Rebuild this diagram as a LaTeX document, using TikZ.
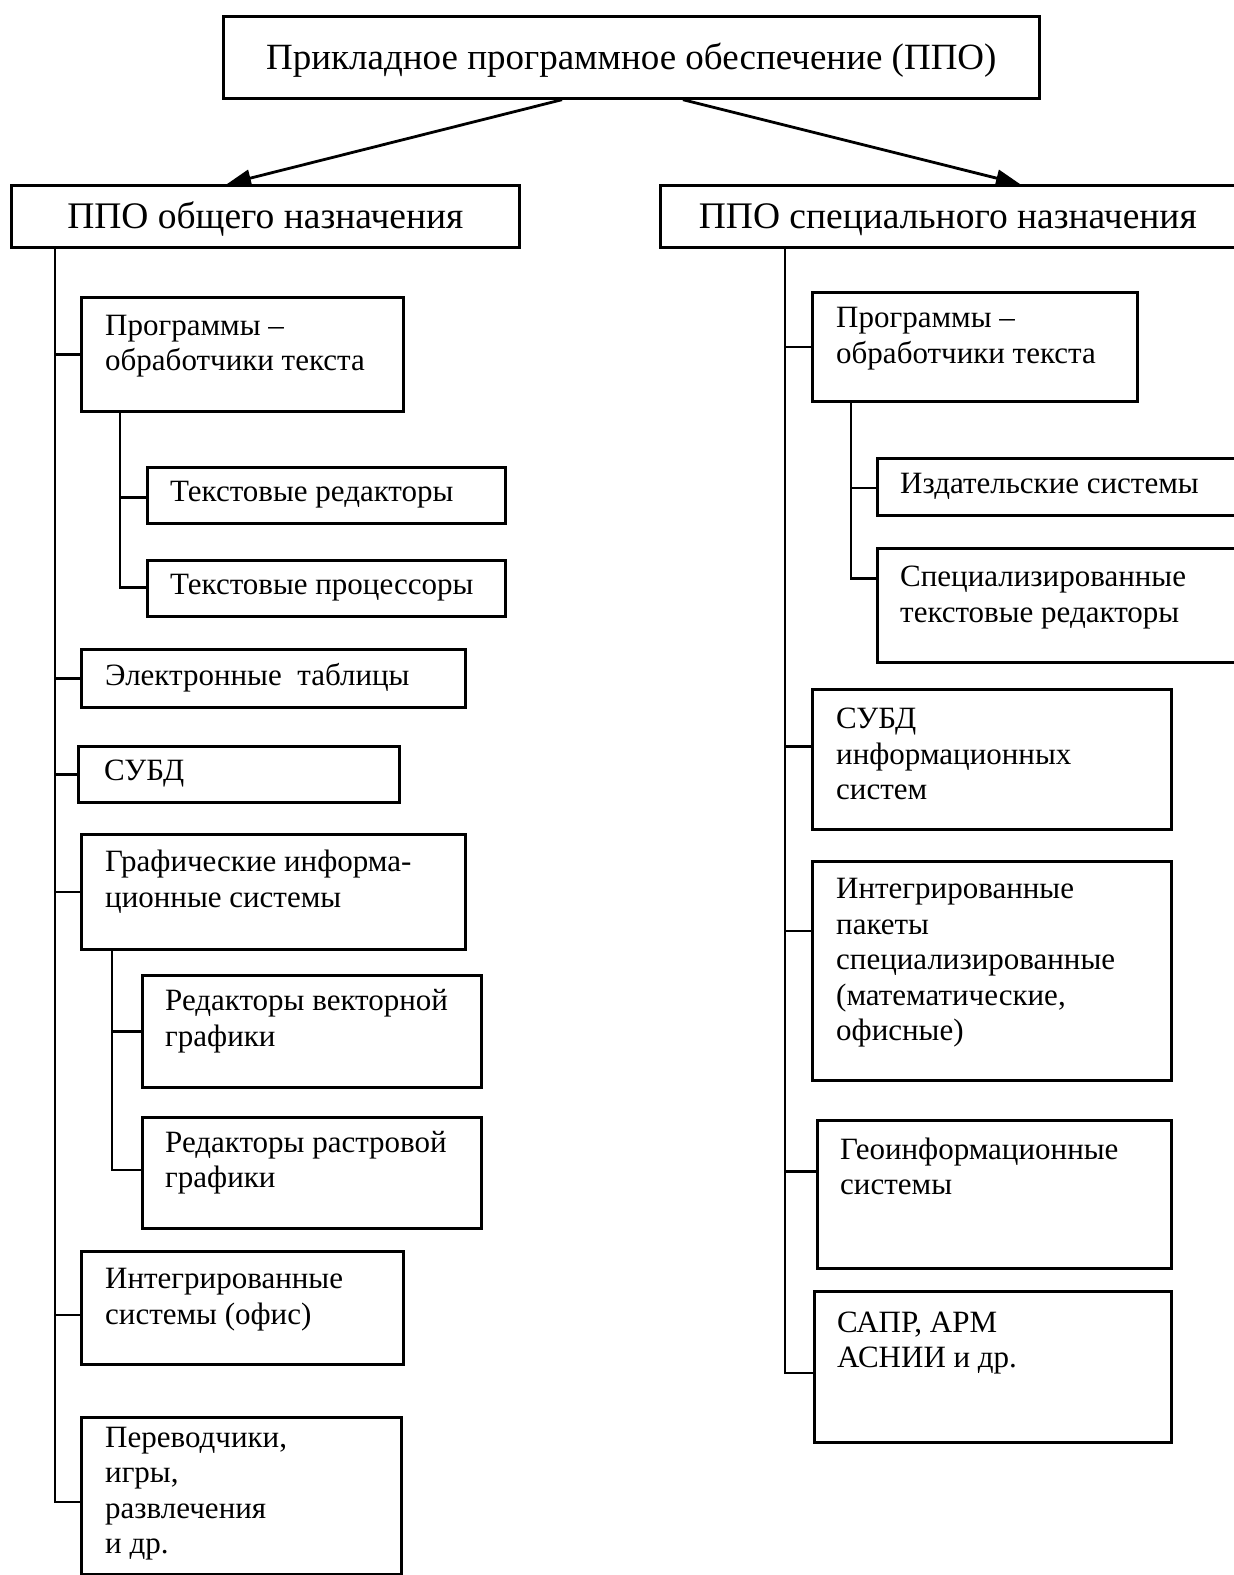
\documentclass[tikz,border=0pt]{standalone}
\usepackage{fontspec}
\setmainfont{Liberation Serif}
\usetikzlibrary{arrows.meta,calc}
\tikzset{
  box/.style={draw=black, line width=2.7pt, rectangle, inner sep=0pt, anchor=north west, fill=none},
  lbl/.style={inner sep=0pt, anchor=west, align=left, font=\fontsize{31}{35.5}\selectfont},
  ttl/.style={inner sep=0pt, font=\fontsize{37}{40}\selectfont},
  hdr/.style={inner sep=0pt, font=\fontsize{37.5}{40}\selectfont},
  conn/.style={line width=2.7pt},
  arr/.style={line width=2.8pt, -{Triangle[length=24pt,width=17pt]}}
}
% \bx{name}{x1}{y1}{x2}{y2}
\newcommand\bx[5]{\node[box, minimum width={#4-#2}, minimum height={#5-#3}] (#1) at (#2,#3) {};}
\begin{document}
\begin{tikzpicture}[x=1pt,y=-1pt]
\useasboundingbox (0,0) rectangle (1234,1575);
\fill[white] (0,0) rectangle (1234,1575);

% top and headers
\bx{top}{222}{15}{1038}{97}
\node[ttl] at ([yshift=-3pt]top.center) {Прикладное программное обеспечение (ППО)};
\bx{lh}{10}{184}{518}{246}
\node[hdr] at ([yshift=-3pt]lh.center) {ППО общего назначения};
\bx{rh}{659}{184}{1250}{246}
\node[hdr] at ([xshift=-8pt,yshift=-3pt]rh.center) {ППО специального назначения};

\coordinate (topL) at ([xshift=340pt]top.south west);
\coordinate (topR) at ([xshift=461pt]top.south west);
\draw[arr] (topL) -- ([xshift=217pt]lh.north west);
\draw[arr] (topR) -- ([xshift=361pt]rh.north west);

% left column
\bx{a1}{80}{296}{402}{410}
\node[lbl] at ([xshift=25pt,yshift=8pt]a1.west) {Программы –\\обработчики текста};
\bx{a1a}{146}{466}{504}{522}
\node[lbl] at ([xshift=24pt,yshift=1pt]a1a.west) {Текстовые редакторы};
\bx{a1b}{146}{559}{504}{615}
\node[lbl] at ([xshift=24pt,yshift=1pt]a1b.west) {Текстовые процессоры};
\bx{a2}{80}{648}{464}{706}
\node[lbl] at ([xshift=25pt,yshift=1pt]a2.west) {Электронные\ \ таблицы};
\bx{a3}{77}{745}{398}{801}
\node[lbl] at ([xshift=27pt,yshift=1pt]a3.west) {СУБД};
\bx{a4}{80}{833}{464}{948}
\node[lbl] at ([xshift=25pt,yshift=10pt]a4.west) {Графические информа-\\ционные системы};
\bx{a4a}{141}{974}{480}{1086}
\node[lbl] at ([xshift=24pt,yshift=10pt]a4a.west) {Редакторы векторной\\графики};
\bx{a4b}{141}{1116}{480}{1227}
\node[lbl] at ([xshift=24pt,yshift=10pt]a4b.west) {Редакторы растровой\\графики};
\bx{a5}{80}{1250}{402}{1363}
\node[lbl] at ([xshift=25pt,yshift=8pt]a5.west) {Интегрированные\\системы (офис)};
\bx{a6}{80}{1416}{400}{1573}
\node[lbl] at ([xshift=25pt,yshift=2pt]a6.west) {Переводчики,\\игры,\\развлечения\\и др.};

\coordinate (lt) at ([xshift=45pt]lh.south west);
\coordinate (a1t) at ([xshift=40pt]a1.south west);
\coordinate (a4t) at ([xshift=32pt]a4.south west);

\coordinate (a1c) at (a1.west);
\coordinate (a1ac) at ([yshift=-2pt]a1a.west);
\coordinate (a1bc) at ([yshift=1pt]a1b.west);
\coordinate (a2c) at (a2.west);
\coordinate (a3c) at (a3.west);
\coordinate (a4c) at (a4.west);
\coordinate (a4ac) at (a4a.west);
\coordinate (a4bc) at ([yshift=3pt]a4b.west);
\coordinate (a5c) at ([yshift=-7pt]a5.west);
\coordinate (a6c) at ([yshift=-6pt]a6.west);

\draw[conn] (lt) -- (lt |- a6c) -- (a6c);
\foreach \c in {a1c,a2c,a3c,a4c,a5c} \draw[conn] (lt |- \c) -- (\c);
\draw[conn] (a1t) -- (a1t |- a1bc) -- (a1bc);
\draw[conn] (a1t |- a1ac) -- (a1ac);
\draw[conn] (a4t) -- (a4t |- a4bc) -- (a4bc);
\draw[conn] (a4t |- a4ac) -- (a4ac);

% right column
\bx{b1}{811}{291}{1136}{400}
\node[lbl] at ([xshift=25pt,yshift=8pt]b1.west) {Программы –\\обработчики текста};
\bx{b1a}{876}{457}{1250}{514}
\node[lbl] at ([xshift=24pt,yshift=1pt]b1a.west) {Издательские системы};
\bx{b1b}{876}{547}{1250}{661}
\node[lbl] at ([xshift=24pt,yshift=8pt]b1b.west) {Специализированные\\текстовые редакторы};
\bx{b2}{811}{688}{1170}{828}
\node[lbl] at ([xshift=25pt,yshift=5pt]b2.west) {СУБД\\информационных\\систем};
\bx{b3}{811}{860}{1170}{1079}
\node[lbl] at ([xshift=25pt,yshift=8pt]b3.west) {Интегрированные\\пакеты\\специализированные\\(математические,\\офисные)};
\bx{b4}{816}{1119}{1170}{1267}
\node[lbl] at ([xshift=24pt,yshift=28pt]b4.west) {Геоинформационные\\системы};
\bx{b5}{813}{1290}{1170}{1441}
\node[lbl] at ([xshift=24pt,yshift=24pt]b5.west) {САПР, АРМ\\АСНИИ и др.};

\coordinate (rt) at ([xshift=126pt]rh.south west);
\coordinate (b1t) at ([xshift=40pt]b1.south west);

\coordinate (b1c) at (b1.west);
\coordinate (b1ac) at ([yshift=-1pt]b1a.west);
\coordinate (b1bc) at ([yshift=27pt]b1b.west);
\coordinate (b2c) at ([yshift=13pt]b2.west);
\coordinate (b3c) at ([yshift=40pt]b3.west);
\coordinate (b4c) at ([yshift=23pt]b4.west);
\coordinate (b5c) at ([yshift=-6pt]b5.west);

\draw[conn] (rt) -- (rt |- b5c) -- (b5c);
\foreach \c in {b1c,b2c,b3c,b4c} \draw[conn] (rt |- \c) -- (\c);
\draw[conn] (b1t) -- (b1t |- b1bc) -- (b1bc);
\draw[conn] (b1t |- b1ac) -- (b1ac);
\end{tikzpicture}
\end{document}
